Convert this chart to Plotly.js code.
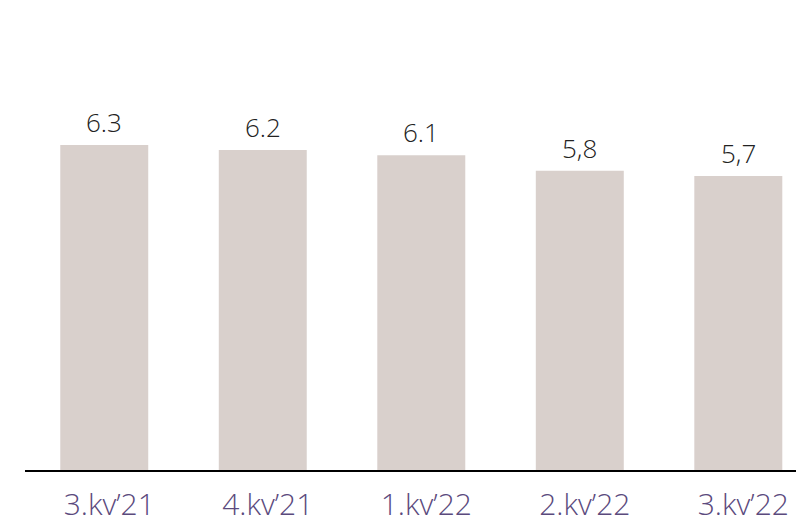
<!DOCTYPE html>
<html>
<head>
<meta charset="utf-8">
<script src="https://cdn.plot.ly/plotly-3.0.1.min.js"></script>
<style>html,body{margin:0;padding:0;background:#fff;}#chart{width:796px;height:521px;}</style>
</head>
<body>
<div id="chart"></div>
<script>
var categories = ["3.kv\u201921", "4.kv\u201921", "1.kv\u201922", "2.kv\u201922", "3.kv\u201922"];
var values = [6.3, 6.2, 6.1, 5.8, 5.7];
var valueLabels = ["6.3", "6.2", "6.1", "5,8", "5,7"];

var trace = {
  type: "bar",
  x: categories,
  y: values,
  width: 0.555,
  marker: {color: "#d9d0cc", line: {width: 0}},
  hoverinfo: "none"
};

var annotations = categories.map(function (c, i) {
  return {
    x: c, y: values[i], xref: "x", yref: "y",
    text: valueLabels[i], showarrow: false,
    yanchor: "bottom", yshift: 3,
    font: {family: "Open Sans", size: 26, weight: 300, color: "#222222"}
  };
});

var layout = {
  width: 796, height: 521,
  margin: {l: 25, r: 0, t: 0, b: 51},
  paper_bgcolor: "#fff", plot_bgcolor: "#fff",
  showlegend: false,
  xaxis: {
    type: "category",
    range: [-0.5, 4.364],
    showgrid: false, zeroline: false,
    showline: true, linecolor: "#000", linewidth: 2,
    ticks: "",
    ticklabelshift: 5,
    ticklabelstandoff: 7,
    tickfont: {family: "Open Sans", size: 30, weight: 300, color: "#5b4a7d"}
  },
  yaxis: {
    range: [0, 9.109],
    showgrid: false, zeroline: false, showline: false,
    showticklabels: false, ticks: ""
  },
  annotations: annotations
};

Plotly.newPlot("chart", [trace], layout, {staticPlot: true});
</script>
</body>
</html>
